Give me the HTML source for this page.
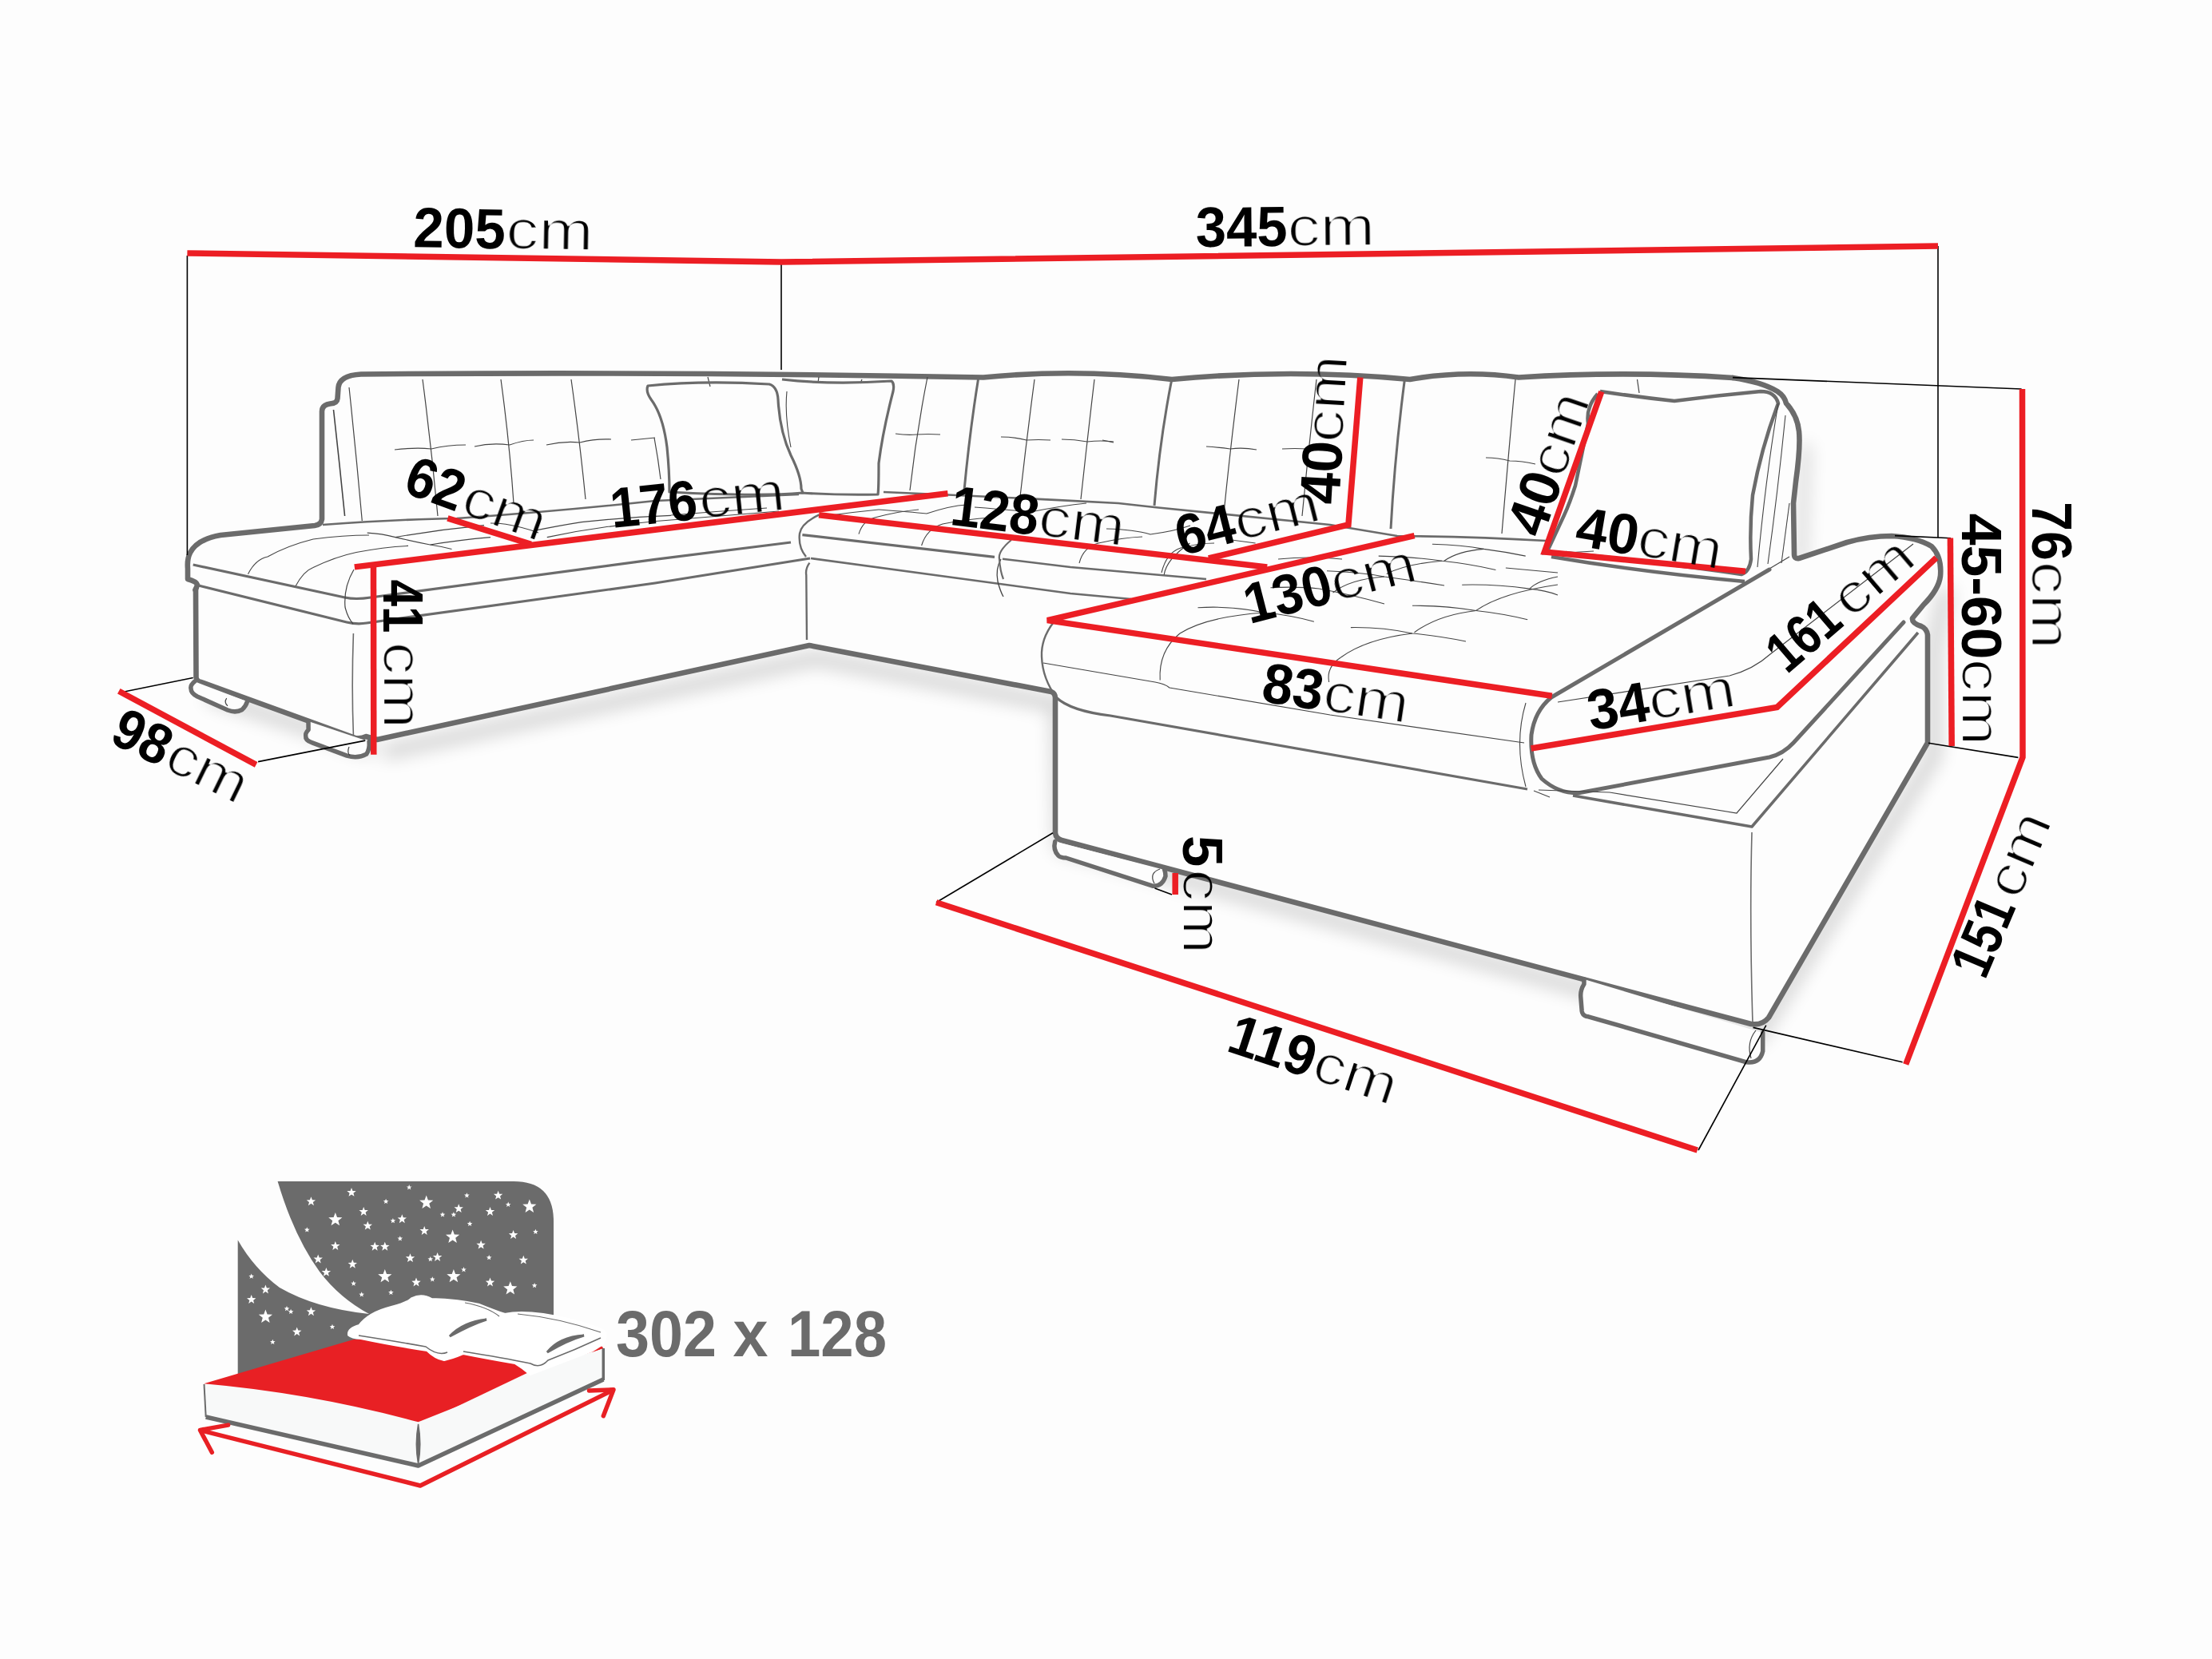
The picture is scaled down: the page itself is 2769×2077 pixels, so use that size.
<!DOCTYPE html>
<html><head><meta charset="utf-8"><style>
html,body{margin:0;padding:0;background:#fdfdfd;}
svg{display:block;}
text{font-family:"Liberation Sans",sans-serif;} .b{font-weight:700;fill:#000;} .r{font-weight:400;fill:#000;filter:url(#thin);} .g{font-weight:700;fill:#6b6b6b;}
</style></head><body>
<svg width="2769" height="2077" viewBox="0 0 2769 2077">
<defs><filter id="blur" x="-20%" y="-20%" width="140%" height="140%"><feGaussianBlur stdDeviation="11"/></filter><filter id="thin" x="-10%" y="-10%" width="120%" height="120%"><feMorphology operator="erode" radius="1.1"/></filter></defs>
<rect width="2769" height="2077" fill="#fdfdfd"/>
<g filter="url(#blur)" opacity="0.17" transform="translate(8,16)"><path d="M472,926 L1013,808 L1316,866 L1321,1043 L2192,1282 L2413,930 L2413,795 L2429,721" stroke="#000" stroke-width="18" fill="none"/><path d="M252,854 L458,922" stroke="#000" stroke-width="18" fill="none"/><path d="M2252,540 L2246,694" stroke="#000" stroke-width="12" fill="none"/></g>
<path d="M2169,473 Q2035,464 1901,472.5 Q1833,463 1765,475 Q1616,461 1467,475 Q1349,461 1231,472.5 Q840,465 452,468.5 Q425,470 423.5,485 L422.5,499 Q422,505 413,505.5 Q403,507 403,515 L403,650 Q402,657 394,658 L276,670 Q247,675 238,692 Q234,700 235,712 L235,725 Q246,728 247,732 Q246,736 244.5,738.5 L245,738 L245.5,848 Q246,853 252,854 L445,924 Q453,925 458,922 L472,926 L1013,808 L1316,866 Q1321,868 1321,874 L1321,1043 Q1322,1050 1329,1052 L2192,1282 Q2206,1284 2214,1274 L2413,930 L2413,795 Q2412,787 2405,784 Q2393,780 2394,774 L2408,757 Q2427,738 2429,721 Q2431,697 2418,684 Q2400,673 2368,671 Q2340,671 2312,679 L2252,699 Q2246,700 2246,694 L2245,630 L2248,603 Q2254,560 2252,540 Q2250,520 2236,505 Q2234,496 2225,490 Q2205,478 2169,473 Z" fill="#fdfdfd" stroke="none"/>
<path d="M2169,473 Q2035,464 1901,472.5 Q1833,463 1765,475 Q1616,461 1467,475 Q1349,461 1231,472.5 Q840,465 452,468.5 Q425,470 423.5,485 L422.5,499 Q422,505 413,505.5 Q403,507 403,515 L403,650 Q402,657 394,658 L276,670 Q247,675 238,692 Q234,700 235,712 L235,725 Q246,728 247,732 Q246,736 244.5,738.5" stroke="#6b6b6b" stroke-width="6.6" fill="none" stroke-linejoin="round" stroke-linecap="round"/>
<path d="M245,738 L245.5,848 Q246,853 252,854 L445,924 Q453,925 458,922 L472,926 L1013,808 L1316,866 Q1321,868 1321,874 L1321,1043 Q1322,1050 1329,1052 L2192,1282 Q2206,1284 2214,1274 L2413,930 L2413,795 Q2412,787 2405,784 Q2393,780 2394,774 L2408,757 Q2427,738 2429,721 Q2431,697 2418,684 Q2400,673 2368,671 Q2340,671 2312,679 L2252,699 Q2246,700 2246,694 L2245,630 L2248,603 Q2254,560 2252,540 Q2250,520 2236,505 Q2234,496 2225,490 Q2205,478 2169,473" stroke="#6b6b6b" stroke-width="6.6" fill="none" stroke-linejoin="round" stroke-linecap="round"/>
<path d="M243.7,853.2 Q238,858 239,862 Q239,868 247,872 L285,889 Q295,893 303,888.5 Q308,884 309.5,878.3" stroke="#6b6b6b" stroke-width="5.5" fill="#fdfdfd" stroke-linecap="round" stroke-linejoin="round"/>
<path d="M283.7,874.2 Q280,879.7 285,883.7" stroke="#444" stroke-width="1.2" fill="none" />
<path d="M386,903 L386.1,913.6 Q382,918 382.7,921 Q382,927 390.9,929.9 L434.3,946.1 Q448,950 458.7,944.1 Q463,938 462.1,928.5" stroke="#6b6b6b" stroke-width="5.5" fill="#fdfdfd" stroke-linecap="round" stroke-linejoin="round"/>
<path d="M437,935 Q434,942 438,946" stroke="#444" stroke-width="1.2" fill="none" />
<path d="M1320.7,1053.6 Q1318,1064 1324.8,1071.2 Q1328,1074 1334.3,1074 L1442.8,1109.2 Q1455,1110 1459,1097 Q1459,1092 1457.7,1088.9" stroke="#6b6b6b" stroke-width="5.5" fill="#fdfdfd" stroke-linecap="round" stroke-linejoin="round"/>
<path d="M1452,1088 Q1438,1093 1445,1106" stroke="#444" stroke-width="1.2" fill="none" />
<path d="M1983,1226 L1982.9,1232.1 Q1978,1240 1978.8,1248.4 L1980.2,1266 Q1981,1272 1988.3,1272.8 L2186.3,1329.8 Q2203,1332 2206.7,1316.2 L2206.7,1293.1" stroke="#6b6b6b" stroke-width="5.5" fill="#fdfdfd" stroke-linecap="round" stroke-linejoin="round"/>
<path d="M2198,1290 Q2186,1305 2192,1325" stroke="#444" stroke-width="1.2" fill="none" />
<path d="M417.5,513 Q425,580 431.6,646" stroke="#444" stroke-width="1.6" fill="none" />
<path d="M437,485 Q446,570 453.3,652" stroke="#444" stroke-width="1.2" fill="none" />
<path d="M404,657 Q500,650 572,649 Q700,640 820,627 L1000,619" stroke="#6b6b6b" stroke-width="2.6" fill="none" />
<path d="M1106,616 Q1250,622 1400,630 L1445,635 L1665,657 L1749,671 Q1850,672 1935,677" stroke="#6b6b6b" stroke-width="2.6" fill="none" />
<path d="M241.7,707 L431.6,748 Q445,751 464,748 L820,700.4 L990,679" stroke="#6b6b6b" stroke-width="3.2" fill="none" />
<path d="M248.5,733 L434,779 Q447,782 459,780 L820,730 L1014,699" stroke="#6b6b6b" stroke-width="3.2" fill="none" />
<path d="M443,713 Q430,735 432,760 Q435,773 442,781" stroke="#444" stroke-width="1.2" fill="none" />
<path d="M442.4,793 Q440,860 442.4,920" stroke="#6b6b6b" stroke-width="1.6" fill="none" />
<path d="M1015,699 L1340,743 L1416,750" stroke="#6b6b6b" stroke-width="2.6" fill="none" />
<path d="M1004.4,669.6 L1245,697.3" stroke="#6b6b6b" stroke-width="3.2" fill="none" />
<path d="M1255,699.7 L1340,710 L1510,725" stroke="#6b6b6b" stroke-width="2.6" fill="none" />
<path d="M1025.6,644.4 Q1003,655 1001,668 Q999,685 1009,697" stroke="#6b6b6b" stroke-width="2.4" fill="none" />
<path d="M1013.4,704.6 Q1008,712 1009.3,720 L1010,801" stroke="#6b6b6b" stroke-width="2.4" fill="none" />
<path d="M1253,700 Q1246,712 1249,728 Q1252,740 1256,747" stroke="#444" stroke-width="1.3" fill="none" />
<path d="M1318.5,779.5 Q1303,800 1304,822 Q1305,850 1323,874" stroke="#6b6b6b" stroke-width="2.4" fill="none" />
<path d="M1322,873 Q1340,890 1390,896 L1912,988" stroke="#6b6b6b" stroke-width="3.2" fill="none" />
<path d="M1306,830 L1446,854 Q1458,856 1464,861 L1665,895 L1908,930" stroke="#444" stroke-width="1.2" fill="none" />
<path d="M1224.5,475 Q1214,540 1207,614" stroke="#6b6b6b" stroke-width="3" fill="none" />
<path d="M1466.8,475 Q1452,550 1445,633" stroke="#6b6b6b" stroke-width="3" fill="none" />
<path d="M1758.4,475 Q1746,570 1741,662" stroke="#6b6b6b" stroke-width="3" fill="none" />
<path d="M529,475 Q540,560 548,646" stroke="#444" stroke-width="1.2" fill="none" />
<path d="M627,475 Q638,556 643,630" stroke="#444" stroke-width="1.2" fill="none" />
<path d="M715,475 Q726,554 733,625" stroke="#444" stroke-width="1.2" fill="none" />
<path d="M1161,472 Q1147,543 1139,614" stroke="#444" stroke-width="1.2" fill="none" />
<path d="M1295,475 Q1285,551 1277,622" stroke="#444" stroke-width="1.2" fill="none" />
<path d="M1370,475 Q1361,551 1353,625" stroke="#444" stroke-width="1.2" fill="none" />
<path d="M1551,475 Q1540,562 1532,643" stroke="#444" stroke-width="1.2" fill="none" />
<path d="M1648,475 Q1638,562 1630,646" stroke="#444" stroke-width="1.2" fill="none" />
<path d="M1897,475 Q1890,549 1880,668" stroke="#444" stroke-width="1.2" fill="none" />
<path d="M819,548 Q824,575 827,600" stroke="#444" stroke-width="1.2" fill="none" />
<path d="M2049.5,475 L2052,492" stroke="#444" stroke-width="1.2" fill="none" />
<path d="M886,472 L889,484" stroke="#444" stroke-width="1.2" fill="none" />
<path d="M1025,472 L1024,479" stroke="#444" stroke-width="1.2" fill="none" />
<path d="M1079,475 L1077,480" stroke="#444" stroke-width="1.2" fill="none" />
<path d="M494,563 Q520,560 540,562 Q560,557 583,557" stroke="#444" stroke-width="1.2" fill="none" />
<path d="M594,559 Q615,554 638,557 Q655,551 668,551" stroke="#444" stroke-width="1.2" fill="none" />
<path d="M684,557 Q705,552 726,554 Q745,549 765,550" stroke="#444" stroke-width="1.2" fill="none" />
<path d="M790,551 L820,548" stroke="#444" stroke-width="1.2" fill="none" />
<path d="M1121,543 Q1135,545 1147,544 Q1162,543 1177,544" stroke="#444" stroke-width="1.2" fill="none" />
<path d="M1253,547 Q1270,547 1285,551 Q1300,550 1315,551" stroke="#444" stroke-width="1.2" fill="none" />
<path d="M1329,550 Q1345,550 1361,553 Q1378,551 1394,553" stroke="#444" stroke-width="1.2" fill="none" />
<path d="M1510,559 Q1525,560 1540,562 Q1556,560 1573,563" stroke="#444" stroke-width="1.2" fill="none" />
<path d="M1605,562 Q1620,561 1638,562" stroke="#444" stroke-width="1.2" fill="none" />
<path d="M1860,573 Q1875,573 1890,577 Q1905,577 1922,581" stroke="#444" stroke-width="1.2" fill="none" />
<path d="M1380,551 L1394,554" stroke="#444" stroke-width="1.2" fill="none" />
<path d="M310.5,718.7 Q320,700 335,697 Q360,683 392,675 Q430,670 462,670" stroke="#444" stroke-width="1.1" fill="none" />
<path d="M370.2,733.6 Q380,715 392,710.5 Q420,697 446,691.5 Q480,685 511,683.4" stroke="#444" stroke-width="1.1" fill="none" />
<path d="M459.7,667.1 Q478,668 495,672.6 Q518,678 538.4,682 Q552,684 565.5,687.5" stroke="#444" stroke-width="1.1" fill="none" />
<path d="M495,672.6 Q550,663 606,657.6" stroke="#444" stroke-width="1.1" fill="none" />
<path d="M538.4,682 Q575,676 614,672.6" stroke="#444" stroke-width="1.1" fill="none" />
<path d="M614,655 Q625,655 633,656.3 Q655,660 674,667" stroke="#444" stroke-width="1.1" fill="none" />
<path d="M668.6,664.4 Q700,658 728,653.6 Q780,648 840,645.4" stroke="#444" stroke-width="1.1" fill="none" />
<path d="M684.8,672.6 Q720,665 755,660.3 Q800,654 840,651" stroke="#444" stroke-width="1.1" fill="none" />
<path d="M840,645 Q900,640 960,636" stroke="#444" stroke-width="1.1" fill="none" />
<path d="M840,651 Q910,645 975,640" stroke="#444" stroke-width="1.1" fill="none" />
<path d="M1075,668.6 Q1080,652 1095,648 Q1125,640 1150,638" stroke="#444" stroke-width="1.1" fill="none" />
<path d="M1153.6,683 Q1160,662 1180,656 Q1210,650 1240,648" stroke="#444" stroke-width="1.1" fill="none" />
<path d="M1351,705 Q1356,685 1375,680 Q1405,673 1430,672" stroke="#444" stroke-width="1.1" fill="none" />
<path d="M1454,717 Q1460,692 1478,686 Q1500,680 1520,680" stroke="#444" stroke-width="1.1" fill="none" />
<path d="M1100,638 Q1140,641 1160,643 Q1190,633 1210,632" stroke="#444" stroke-width="1.1" fill="none" />
<path d="M1220,635 Q1260,638 1290,641 Q1330,633 1360,630" stroke="#444" stroke-width="1.1" fill="none" />
<path d="M1385,662 Q1420,663 1440,669 Q1470,665 1490,658" stroke="#444" stroke-width="1.1" fill="none" />
<path d="M1040,645 Q1070,641 1100,638" stroke="#444" stroke-width="1.1" fill="none" />
<path d="M1266,676 Q1249,690 1251,700 Q1252,715 1256,725" stroke="#6b6b6b" stroke-width="2.2" fill="none" />
<path d="M1499.5,760.8 Q1540,758 1582.8,767 Q1615,770 1644.9,778.2" stroke="#444" stroke-width="1.1" fill="none" />
<path d="M1477,793 Q1510,772 1582.8,767" stroke="#444" stroke-width="1.1" fill="none" />
<path d="M1452.2,851.5 Q1450,815 1477,793" stroke="#444" stroke-width="1.1" fill="none" />
<path d="M1690.9,785.6 Q1730,785 1768,793 Q1800,796 1835,803" stroke="#444" stroke-width="1.1" fill="none" />
<path d="M1678.5,823 Q1710,800 1768,793" stroke="#444" stroke-width="1.1" fill="none" />
<path d="M1663.6,854 Q1660,835 1678.5,823" stroke="#444" stroke-width="1.1" fill="none" />
<path d="M1768,758.3 Q1810,758 1847.6,764.5 Q1880,768 1912.2,775.7" stroke="#444" stroke-width="1.1" fill="none" />
<path d="M1770.5,791.8 Q1800,770 1847.6,764.5" stroke="#444" stroke-width="1.1" fill="none" />
<path d="M1847.6,764.5 Q1880,742 1950,732" stroke="#444" stroke-width="1.1" fill="none" />
<path d="M1830.2,732.2 Q1870,731 1914.7,737.1 Q1935,739 1950,745" stroke="#444" stroke-width="1.1" fill="none" />
<path d="M1725.7,696.1 Q1770,697 1805.3,702.3 Q1840,706 1872.4,713.5" stroke="#444" stroke-width="1.1" fill="none" />
<path d="M1735.7,718.5 Q1760,706 1805.3,702.3" stroke="#444" stroke-width="1.1" fill="none" />
<path d="M1661,714.8 Q1700,716 1733,722 Q1770,727 1808,733" stroke="#444" stroke-width="1.1" fill="none" />
<path d="M1668.5,742.1 Q1690,725 1733,722" stroke="#444" stroke-width="1.1" fill="none" />
<path d="M1792.9,681.2 Q1830,682 1857.5,687.4 Q1885,691 1909.7,696.1" stroke="#444" stroke-width="1.1" fill="none" />
<path d="M1807.8,702.3 Q1825,690 1857.5,687.4" stroke="#444" stroke-width="1.1" fill="none" />
<path d="M1884.9,711 L1950,717" stroke="#444" stroke-width="1.1" fill="none" />
<path d="M1914.7,737.1 Q1925,727 1950,722" stroke="#444" stroke-width="1.1" fill="none" />
<path d="M1590.5,735.7 Q1625,734 1651,737 Q1690,744 1733,756" stroke="#444" stroke-width="1.1" fill="none" />
<path d="M1457.2,719.7 Q1460,700 1489.5,680" stroke="#444" stroke-width="1.1" fill="none" />
<path d="M1534.3,675 L1571.6,680" stroke="#444" stroke-width="1.1" fill="none" />
<path d="M1600,700 Q1640,696 1680,700" stroke="#444" stroke-width="1.1" fill="none" />
<path d="M811,483 Q880,476 963,481 Q973,484 974,500 Q976,540 990,570 Q1003,596 1003,612 L1005,617 Q950,622 838,616 Q838,590 835,560 Q830,520 815,500 Q808,490 811,483 Z" stroke="#6b6b6b" stroke-width="3.2" fill="none" stroke-linejoin="round"/>
<path d="M979,475 Q1040,482 1116,477 Q1120,480 1118,490 Q1105,540 1100,580 Q1100,612 1099,619 Q1050,620 1003,617" stroke="#6b6b6b" stroke-width="3.2" fill="none" fill="none" stroke-linejoin="round"/>
<path d="M985,490 Q982,520 990,560" stroke="#444" stroke-width="1.1" fill="none" />
<path d="M2003,490 Q2050,497 2096,502 Q2150,495 2204,490 Q2222,490 2226,505 Q2205,560 2194,620 Q2190,660 2192,700 Q2190,716 2180,719 Q2100,707 1960,692" stroke="#6b6b6b" stroke-width="4.5" fill="none" stroke-linejoin="round"/>
<path d="M2000,493 Q1985,510 1988,530 Q1980,570 1972,608 Q1965,630 1958,645 L1938,688" stroke="#6b6b6b" stroke-width="4.5" fill="none" />
<path d="M1942,697 Q2060,717 2184,728" stroke="#6b6b6b" stroke-width="4.5" fill="none" />
<path d="M2226,505 Q2210,600 2200,710" stroke="#444" stroke-width="1.1" fill="none" />
<path d="M2235,520 Q2225,620 2213,706" stroke="#444" stroke-width="1.1" fill="none" />
<path d="M2240,630 L2230,705" stroke="#444" stroke-width="1.1" fill="none" />
<path d="M2205,718 L2240,697" stroke="#444" stroke-width="1.1" fill="none" />
<path d="M1995,690 Q1960,692 1930,694" stroke="#444" stroke-width="1.1" fill="none" />
<path d="M2215,713 L1942,873 Q1921,890 1917,920 Q1915,955 1930,975 Q1950,993 1975,993 L2215,948 Q2232,944 2245,930 L2383,779" stroke="#6b6b6b" stroke-width="5" fill="none" stroke-linejoin="round" stroke-linecap="round"/>
<path d="M2401,792 L2193,1035 L1969,996" stroke="#6b6b6b" stroke-width="3.6" fill="none" stroke-linejoin="round"/>
<path d="M2232,950 L2174,1018 L2015,992" stroke="#444" stroke-width="1.2" fill="none" />
<path d="M1926,989 L2015,992" stroke="#444" stroke-width="1.2" fill="none" />
<path d="M2193,1042 Q2190,1150 2194,1281" stroke="#6b6b6b" stroke-width="1.6" fill="none" />
<path d="M1910,880 Q1895,930 1910,985" stroke="#444" stroke-width="1.1" fill="none" />
<path d="M1950,879 Q2060,862 2165,846 Q2195,838 2216,819 L2395,681" stroke="#444" stroke-width="1.2" fill="none" />
<path d="M1920,990 L1940,998" stroke="#444" stroke-width="1.1" fill="none" />
<path d="M234.4,320.0 L234.4,695.0" stroke="#000" stroke-width="1.6" fill="none" />
<path d="M978.0,328.0 L978.0,463.0" stroke="#000" stroke-width="1.6" fill="none" />
<path d="M2426.0,308.0 L2426.0,673.0" stroke="#000" stroke-width="1.6" fill="none" />
<path d="M2169.0,472.6 L2530.6,487.0" stroke="#000" stroke-width="1.6" fill="none" />
<path d="M2372.0,670.6 L2442.0,673.8" stroke="#000" stroke-width="1.6" fill="none" />
<path d="M2414.0,930.3 L2526.4,948.4" stroke="#000" stroke-width="1.6" fill="none" />
<path d="M2194.5,1286.4 L2381.6,1329.8" stroke="#000" stroke-width="1.6" fill="none" />
<path d="M2210.8,1283.6 L2126.0,1440.0" stroke="#000" stroke-width="1.6" fill="none" />
<path d="M1172.0,1129.8 L1318.0,1042.8" stroke="#000" stroke-width="1.6" fill="none" />
<path d="M1445.5,1112.0 L1467.0,1120.0" stroke="#000" stroke-width="1.6" fill="none" />
<path d="M150.6,867.0 L241.7,848.5" stroke="#000" stroke-width="1.6" fill="none" />
<path d="M323.1,953.6 L457.3,927.1" stroke="#000" stroke-width="1.6" fill="none" />
<path d="M234.4,317.0 L978.0,328.0 L2426.0,308.0" stroke="#ec1e24" stroke-width="7.5" fill="none" stroke-linejoin="miter"/>
<path d="M2531.5,487.0 L2532.0,948.0 L2385.7,1332.5" stroke="#ec1e24" stroke-width="7.5" fill="none" stroke-linejoin="miter"/>
<path d="M2441.4,673.5 L2443.2,934.0" stroke="#ec1e24" stroke-width="7.5" fill="none" stroke-linejoin="miter"/>
<path d="M443.8,709.9 L1186.5,617.7" stroke="#ec1e24" stroke-width="7.5" fill="none" stroke-linejoin="miter"/>
<path d="M467.5,709.7 L467.8,944.8" stroke="#ec1e24" stroke-width="7.5" fill="none" stroke-linejoin="miter"/>
<path d="M560.4,648.9 L664.8,681.4" stroke="#ec1e24" stroke-width="7.5" fill="none" stroke-linejoin="miter"/>
<path d="M148.8,865.2 L320.6,957.4" stroke="#ec1e24" stroke-width="7.5" fill="none" stroke-linejoin="miter"/>
<path d="M1025.1,644.8 L1586.2,709.9" stroke="#ec1e24" stroke-width="7.5" fill="none" stroke-linejoin="miter"/>
<path d="M1512.9,699.0 L1687.9,657.0 L1702.8,472.5" stroke="#ec1e24" stroke-width="7.5" fill="none" stroke-linejoin="miter"/>
<path d="M1770.6,670.6 L1311.0,776.6 L1942.8,871.3" stroke="#ec1e24" stroke-width="7.5" fill="none" stroke-linejoin="miter"/>
<path d="M2004.8,490.2 L1933.4,690.9 L2185.0,715.3" stroke="#ec1e24" stroke-width="7.5" fill="none" stroke-linejoin="miter"/>
<path d="M2423.9,698.3 L2224.5,885.5 L1916.6,937.0" stroke="#ec1e24" stroke-width="7.5" fill="none" stroke-linejoin="miter"/>
<path d="M1172.0,1129.8 L2124.8,1440.0" stroke="#ec1e24" stroke-width="7.5" fill="none" stroke-linejoin="miter"/>
<path d="M1471.2,1093.0 L1471.2,1120.0" stroke="#ec1e24" stroke-width="7.5" fill="none" stroke-linejoin="miter"/>
<g transform="translate(519.4,309.4) rotate(1)"><text x="-2.3" y="0" class="b" font-size="71" textLength="115.3" lengthAdjust="spacingAndGlyphs">205</text><text x="113.8" y="0" class="r" font-size="71" textLength="108.9" lengthAdjust="spacingAndGlyphs">cm</text></g>
<g transform="translate(1499.4,309.0) rotate(-0.5)"><text x="-2.3" y="0" class="b" font-size="71" textLength="114.6" lengthAdjust="spacingAndGlyphs">345</text><text x="112.6" y="0" class="r" font-size="71" textLength="109.3" lengthAdjust="spacingAndGlyphs">cm</text></g>
<g transform="translate(504.9,616.6) rotate(20)"><text x="-2.3" y="0" class="b" font-size="71" textLength="73.3" lengthAdjust="spacingAndGlyphs">62</text><text x="73.8" y="0" class="r" font-size="71" textLength="106.7" lengthAdjust="spacingAndGlyphs">cm</text></g>
<g transform="translate(768.8,660.8) rotate(-6)"><text x="-2.3" y="0" class="b" font-size="71" textLength="109.0" lengthAdjust="spacingAndGlyphs">176</text><text x="109.1" y="0" class="r" font-size="71" textLength="107.7" lengthAdjust="spacingAndGlyphs">cm</text></g>
<g transform="translate(1190.2,657.1) rotate(7)"><text x="-2.3" y="0" class="b" font-size="71" textLength="110.6" lengthAdjust="spacingAndGlyphs">128</text><text x="108.6" y="0" class="r" font-size="71" textLength="108.1" lengthAdjust="spacingAndGlyphs">cm</text></g>
<g transform="translate(1480.6,695.5) rotate(-14.3)"><text x="-2.3" y="0" class="b" font-size="71" textLength="74.8" lengthAdjust="spacingAndGlyphs">64</text><text x="73.1" y="0" class="r" font-size="71" textLength="107.6" lengthAdjust="spacingAndGlyphs">cm</text></g>
<g transform="translate(1676.5,630.0) rotate(-86.8)"><text x="-2.3" y="0" class="b" font-size="71" textLength="79.3" lengthAdjust="spacingAndGlyphs">40</text><text x="75.3" y="0" class="r" font-size="71" textLength="108.9" lengthAdjust="spacingAndGlyphs">cm</text></g>
<g transform="translate(1566.5,780.7) rotate(-14.5)"><text x="-2.3" y="0" class="b" font-size="71" textLength="111.0" lengthAdjust="spacingAndGlyphs">130</text><text x="108.8" y="0" class="r" font-size="71" textLength="108.4" lengthAdjust="spacingAndGlyphs">cm</text></g>
<g transform="translate(1579.7,878.4) rotate(8.5)"><text x="-2.3" y="0" class="b" font-size="71" textLength="76.6" lengthAdjust="spacingAndGlyphs">83</text><text x="74.9" y="0" class="r" font-size="71" textLength="107.7" lengthAdjust="spacingAndGlyphs">cm</text></g>
<g transform="translate(1931.8,673.0) rotate(-71)"><text x="-2.3" y="0" class="b" font-size="71" textLength="79.3" lengthAdjust="spacingAndGlyphs">40</text><text x="76.5" y="0" class="r" font-size="71" textLength="105.5" lengthAdjust="spacingAndGlyphs">cm</text></g>
<g transform="translate(1972.3,682.8) rotate(9.5)"><text x="-2.3" y="0" class="b" font-size="71" textLength="78.3" lengthAdjust="spacingAndGlyphs">40</text><text x="75.7" y="0" class="r" font-size="71" textLength="106.8" lengthAdjust="spacingAndGlyphs">cm</text></g>
<g transform="translate(2238.5,843.2) rotate(-40.5)"><text x="-2.3" y="0" class="b" font-size="71" textLength="96.2" lengthAdjust="spacingAndGlyphs">161</text><text x="103.8" y="0" class="r" font-size="71" textLength="110.3" lengthAdjust="spacingAndGlyphs">cm</text></g>
<g transform="translate(1993.8,914.1) rotate(-9.5)"><text x="-2.3" y="0" class="b" font-size="71" textLength="77.2" lengthAdjust="spacingAndGlyphs">34</text><text x="74.8" y="0" class="r" font-size="71" textLength="109.1" lengthAdjust="spacingAndGlyphs">cm</text></g>
<g transform="translate(2456.2,645.0) rotate(90)"><text x="-2.3" y="0" class="b" font-size="71" textLength="182.8" lengthAdjust="spacingAndGlyphs">45-60</text><text x="179.8" y="0" class="r" font-size="71" textLength="108.5" lengthAdjust="spacingAndGlyphs">cm</text></g>
<g transform="translate(2543.5,630.5) rotate(90)"><text x="-2.3" y="0" class="b" font-size="71" textLength="73.6" lengthAdjust="spacingAndGlyphs">76</text><text x="72.3" y="0" class="r" font-size="71" textLength="109.7" lengthAdjust="spacingAndGlyphs">cm</text></g>
<g transform="translate(2485.7,1225.8) rotate(-67)"><text x="-2.3" y="0" class="b" font-size="71" textLength="100.3" lengthAdjust="spacingAndGlyphs">151</text><text x="105.8" y="0" class="r" font-size="71" textLength="108.5" lengthAdjust="spacingAndGlyphs">cm</text></g>
<g transform="translate(1535.4,1316.0) rotate(18.3)"><text x="-2.3" y="0" class="b" font-size="71" textLength="110.5" lengthAdjust="spacingAndGlyphs">119</text><text x="109.5" y="0" class="r" font-size="71" textLength="106.4" lengthAdjust="spacingAndGlyphs">cm</text></g>
<g transform="translate(1481.0,1048.2) rotate(90)"><text x="-2.3" y="0" class="b" font-size="71" textLength="39.3" lengthAdjust="spacingAndGlyphs">5</text><text x="40.2" y="0" class="r" font-size="71" textLength="105.8" lengthAdjust="spacingAndGlyphs">cm</text></g>
<g transform="translate(137.4,929.5) rotate(26)"><text x="-2.3" y="0" class="b" font-size="71" textLength="72.8" lengthAdjust="spacingAndGlyphs">98</text><text x="72.6" y="0" class="r" font-size="71" textLength="105.3" lengthAdjust="spacingAndGlyphs">cm</text></g>
<g transform="translate(480.2,727.7) rotate(90)"><text x="-2.3" y="0" class="b" font-size="71" textLength="67.0" lengthAdjust="spacingAndGlyphs">41</text><text x="75.9" y="0" class="r" font-size="71" textLength="108.6" lengthAdjust="spacingAndGlyphs">cm</text></g>
<path d="M347.6,1479 L643,1479 Q693,1479 693,1529 L693,1725 L297.7,1725 L297.7,1552.4 Q318,1588 350,1612 Q395,1638 462,1645 Q425,1625 400,1592 Q368,1548 347.6,1479 Z" fill="#6b6b6b"/>
<polygon points="419.8,1518.0 422.0,1523.9 428.4,1524.2 423.4,1528.2 425.1,1534.3 419.8,1530.8 414.5,1534.3 416.2,1528.2 411.2,1524.2 417.6,1523.9" fill="#fff"/>
<polygon points="533.7,1496.6 535.9,1502.5 542.3,1502.8 537.3,1506.8 539.0,1512.9 533.7,1509.4 528.4,1512.9 530.1,1506.8 525.1,1502.8 531.5,1502.5" fill="#fff"/>
<polygon points="662.8,1501.6 665.0,1507.5 671.4,1507.8 666.4,1511.8 668.1,1517.9 662.8,1514.4 657.5,1517.9 659.2,1511.8 654.2,1507.8 660.6,1507.5" fill="#fff"/>
<polygon points="566.6,1539.6 568.8,1545.5 575.2,1545.8 570.2,1549.8 571.9,1555.9 566.6,1552.4 561.3,1555.9 563.0,1549.8 558.0,1545.8 564.4,1545.5" fill="#fff"/>
<polygon points="481.8,1589.0 484.0,1594.9 490.4,1595.2 485.4,1599.2 487.1,1605.3 481.8,1601.8 476.5,1605.3 478.2,1599.2 473.2,1595.2 479.6,1594.9" fill="#fff"/>
<polygon points="567.9,1589.0 570.1,1594.9 576.5,1595.2 571.5,1599.2 573.2,1605.3 567.9,1601.8 562.6,1605.3 564.3,1599.2 559.3,1595.2 565.7,1594.9" fill="#fff"/>
<polygon points="638.8,1604.2 641.0,1610.1 647.4,1610.4 642.4,1614.4 644.1,1620.5 638.8,1617.0 633.5,1620.5 635.2,1614.4 630.2,1610.4 636.6,1610.1" fill="#fff"/>
<polygon points="332.4,1639.6 334.6,1645.5 341.0,1645.8 336.0,1649.8 337.7,1655.9 332.4,1652.4 327.1,1655.9 328.8,1649.8 323.8,1645.8 330.2,1645.5" fill="#fff"/>
<polygon points="440.0,1486.9 441.5,1490.9 445.7,1491.0 442.4,1493.7 443.5,1497.8 440.0,1495.4 436.5,1497.8 437.6,1493.7 434.3,1491.0 438.5,1490.9" fill="#fff"/>
<polygon points="389.4,1498.3 390.9,1502.3 395.1,1502.4 391.8,1505.1 392.9,1509.2 389.4,1506.8 385.9,1509.2 387.0,1505.1 383.7,1502.4 387.9,1502.3" fill="#fff"/>
<polygon points="455.2,1511.0 456.7,1515.0 460.9,1515.1 457.6,1517.8 458.7,1521.9 455.2,1519.5 451.7,1521.9 452.8,1517.8 449.5,1515.1 453.7,1515.0" fill="#fff"/>
<polygon points="460.3,1528.7 461.8,1532.7 466.0,1532.8 462.7,1535.5 463.8,1539.6 460.3,1537.2 456.8,1539.6 457.9,1535.5 454.6,1532.8 458.8,1532.7" fill="#fff"/>
<polygon points="503.3,1520.3 504.8,1524.3 509.0,1524.4 505.7,1527.1 506.8,1531.2 503.3,1528.8 499.8,1531.2 500.9,1527.1 497.6,1524.4 501.8,1524.3" fill="#fff"/>
<polygon points="574.2,1507.2 575.7,1511.2 579.9,1511.3 576.6,1514.0 577.7,1518.1 574.2,1515.7 570.7,1518.1 571.8,1514.0 568.5,1511.3 572.7,1511.2" fill="#fff"/>
<polygon points="623.6,1490.7 625.1,1494.7 629.3,1494.8 626.0,1497.5 627.1,1501.6 623.6,1499.2 620.1,1501.6 621.2,1497.5 617.9,1494.8 622.1,1494.7" fill="#fff"/>
<polygon points="613.5,1511.0 615.0,1515.0 619.2,1515.1 615.9,1517.8 617.0,1521.9 613.5,1519.5 610.0,1521.9 611.1,1517.8 607.8,1515.1 612.0,1515.0" fill="#fff"/>
<polygon points="531.2,1535.0 532.7,1539.0 536.9,1539.1 533.6,1541.8 534.7,1545.9 531.2,1543.5 527.7,1545.9 528.8,1541.8 525.5,1539.1 529.7,1539.0" fill="#fff"/>
<polygon points="642.6,1540.1 644.1,1544.1 648.3,1544.2 645.0,1546.9 646.1,1551.0 642.6,1548.6 639.1,1551.0 640.2,1546.9 636.9,1544.2 641.1,1544.1" fill="#fff"/>
<polygon points="419.8,1554.0 421.3,1558.0 425.5,1558.1 422.2,1560.8 423.3,1564.9 419.8,1562.5 416.3,1564.9 417.4,1560.8 414.1,1558.1 418.3,1558.0" fill="#fff"/>
<polygon points="469.2,1554.8 470.7,1558.8 474.9,1558.9 471.6,1561.6 472.7,1565.7 469.2,1563.3 465.7,1565.7 466.8,1561.6 463.5,1558.9 467.7,1558.8" fill="#fff"/>
<polygon points="481.8,1554.8 483.3,1558.8 487.5,1558.9 484.2,1561.6 485.3,1565.7 481.8,1563.3 478.3,1565.7 479.4,1561.6 476.1,1558.9 480.3,1558.8" fill="#fff"/>
<polygon points="602.1,1552.7 603.6,1556.7 607.8,1556.8 604.5,1559.5 605.6,1563.6 602.1,1561.2 598.6,1563.6 599.7,1559.5 596.4,1556.8 600.6,1556.7" fill="#fff"/>
<polygon points="398.2,1570.5 399.7,1574.5 403.9,1574.6 400.6,1577.3 401.7,1581.4 398.2,1579.0 394.7,1581.4 395.8,1577.3 392.5,1574.6 396.7,1574.5" fill="#fff"/>
<polygon points="513.5,1569.2 515.0,1573.2 519.2,1573.3 515.9,1576.0 517.0,1580.1 513.5,1577.7 510.0,1580.1 511.1,1576.0 507.8,1573.3 512.0,1573.2" fill="#fff"/>
<polygon points="547.6,1568.0 549.1,1572.0 553.3,1572.1 550.0,1574.8 551.1,1578.9 547.6,1576.5 544.1,1578.9 545.2,1574.8 541.9,1572.1 546.1,1572.0" fill="#fff"/>
<polygon points="655.3,1571.7 656.8,1575.7 661.0,1575.8 657.7,1578.5 658.8,1582.6 655.3,1580.2 651.8,1582.6 652.9,1578.5 649.6,1575.8 653.8,1575.7" fill="#fff"/>
<polygon points="441.3,1576.8 442.8,1580.8 447.0,1580.9 443.7,1583.6 444.8,1587.7 441.3,1585.3 437.8,1587.7 438.9,1583.6 435.6,1580.9 439.8,1580.8" fill="#fff"/>
<polygon points="408.4,1586.9 409.9,1590.9 414.1,1591.0 410.8,1593.7 411.9,1597.8 408.4,1595.4 404.9,1597.8 406.0,1593.7 402.7,1591.0 406.9,1590.9" fill="#fff"/>
<polygon points="521.0,1599.6 522.5,1603.6 526.7,1603.7 523.4,1606.4 524.5,1610.5 521.0,1608.1 517.5,1610.5 518.6,1606.4 515.3,1603.7 519.5,1603.6" fill="#fff"/>
<polygon points="613.5,1599.6 615.0,1603.6 619.2,1603.7 615.9,1606.4 617.0,1610.5 613.5,1608.1 610.0,1610.5 611.1,1606.4 607.8,1603.7 612.0,1603.6" fill="#fff"/>
<polygon points="332.4,1608.5 333.9,1612.5 338.1,1612.6 334.8,1615.3 335.9,1619.4 332.4,1617.0 328.9,1619.4 330.0,1615.3 326.7,1612.6 330.9,1612.5" fill="#fff"/>
<polygon points="314.7,1621.1 316.2,1625.1 320.4,1625.2 317.1,1627.9 318.2,1632.0 314.7,1629.6 311.2,1632.0 312.3,1627.9 309.0,1625.2 313.2,1625.1" fill="#fff"/>
<polygon points="389.4,1636.3 390.9,1640.3 395.1,1640.4 391.8,1643.1 392.9,1647.2 389.4,1644.8 385.9,1647.2 387.0,1643.1 383.7,1640.4 387.9,1640.3" fill="#fff"/>
<polygon points="371.7,1661.6 373.2,1665.6 377.4,1665.7 374.1,1668.4 375.2,1672.5 371.7,1670.1 368.2,1672.5 369.3,1668.4 366.0,1665.7 370.2,1665.6" fill="#fff"/>
<polygon points="512.2,1483.1 513.1,1485.4 515.5,1485.5 513.6,1487.1 514.3,1489.4 512.2,1488.1 510.1,1489.4 510.8,1487.1 508.9,1485.5 511.3,1485.4" fill="#fff"/>
<polygon points="483.1,1500.8 484.0,1503.1 486.4,1503.2 484.5,1504.8 485.2,1507.1 483.1,1505.8 481.0,1507.1 481.7,1504.8 479.8,1503.2 482.2,1503.1" fill="#fff"/>
<polygon points="584.4,1493.2 585.3,1495.5 587.7,1495.6 585.8,1497.2 586.5,1499.5 584.4,1498.2 582.3,1499.5 583.0,1497.2 581.1,1495.6 583.5,1495.5" fill="#fff"/>
<polygon points="636.2,1504.6 637.1,1506.9 639.5,1507.0 637.6,1508.6 638.3,1510.9 636.2,1509.6 634.1,1510.9 634.8,1508.6 632.9,1507.0 635.3,1506.9" fill="#fff"/>
<polygon points="384.3,1536.3 385.2,1538.6 387.6,1538.7 385.7,1540.3 386.4,1542.6 384.3,1541.3 382.2,1542.6 382.9,1540.3 381.0,1538.7 383.4,1538.6" fill="#fff"/>
<polygon points="491.9,1524.9 492.8,1527.2 495.2,1527.3 493.3,1528.9 494.0,1531.2 491.9,1529.9 489.8,1531.2 490.5,1528.9 488.6,1527.3 491.0,1527.2" fill="#fff"/>
<polygon points="554.0,1517.3 554.9,1519.6 557.3,1519.7 555.4,1521.3 556.1,1523.6 554.0,1522.3 551.9,1523.6 552.6,1521.3 550.7,1519.7 553.1,1519.6" fill="#fff"/>
<polygon points="567.9,1517.3 568.8,1519.6 571.2,1519.7 569.3,1521.3 570.0,1523.6 567.9,1522.3 565.8,1523.6 566.5,1521.3 564.6,1519.7 567.0,1519.6" fill="#fff"/>
<polygon points="588.1,1528.7 589.0,1531.0 591.4,1531.1 589.5,1532.7 590.2,1535.0 588.1,1533.7 586.0,1535.0 586.7,1532.7 584.8,1531.1 587.2,1531.0" fill="#fff"/>
<polygon points="670.4,1538.8 671.3,1541.1 673.7,1541.2 671.8,1542.8 672.5,1545.1 670.4,1543.8 668.3,1545.1 669.0,1542.8 667.1,1541.2 669.5,1541.1" fill="#fff"/>
<polygon points="500.8,1547.2 501.7,1549.5 504.1,1549.6 502.2,1551.2 502.9,1553.5 500.8,1552.2 498.7,1553.5 499.4,1551.2 497.5,1549.6 499.9,1549.5" fill="#fff"/>
<polygon points="538.8,1573.0 539.7,1575.3 542.1,1575.4 540.2,1577.0 540.9,1579.3 538.8,1578.0 536.7,1579.3 537.4,1577.0 535.5,1575.4 537.9,1575.3" fill="#fff"/>
<polygon points="612.2,1571.0 613.1,1573.3 615.5,1573.4 613.6,1575.0 614.3,1577.3 612.2,1576.0 610.1,1577.3 610.8,1575.0 608.9,1573.4 611.3,1573.3" fill="#fff"/>
<polygon points="580.5,1586.1 581.4,1588.4 583.8,1588.5 581.9,1590.1 582.6,1592.4 580.5,1591.1 578.4,1592.4 579.1,1590.1 577.2,1588.5 579.6,1588.4" fill="#fff"/>
<polygon points="442.6,1603.4 443.5,1605.7 445.9,1605.8 444.0,1607.4 444.7,1609.7 442.6,1608.4 440.5,1609.7 441.2,1607.4 439.3,1605.8 441.7,1605.7" fill="#fff"/>
<polygon points="489.4,1614.7 490.3,1617.0 492.7,1617.1 490.8,1618.7 491.5,1621.0 489.4,1619.7 487.3,1621.0 488.0,1618.7 486.1,1617.1 488.5,1617.0" fill="#fff"/>
<polygon points="452.7,1617.3 453.6,1619.6 456.0,1619.7 454.1,1621.3 454.8,1623.6 452.7,1622.3 450.6,1623.6 451.3,1621.3 449.4,1619.7 451.8,1619.6" fill="#fff"/>
<polygon points="541.3,1598.3 542.2,1600.6 544.6,1600.7 542.7,1602.3 543.4,1604.6 541.3,1603.3 539.2,1604.6 539.9,1602.3 538.0,1600.7 540.4,1600.6" fill="#fff"/>
<polygon points="669.1,1605.9 670.0,1608.2 672.4,1608.3 670.5,1609.9 671.2,1612.2 669.1,1610.9 667.0,1612.2 667.7,1609.9 665.8,1608.3 668.2,1608.2" fill="#fff"/>
<polygon points="314.7,1594.5 315.6,1596.8 318.0,1596.9 316.1,1598.5 316.8,1600.8 314.7,1599.5 312.6,1600.8 313.3,1598.5 311.4,1596.9 313.8,1596.8" fill="#fff"/>
<polygon points="359.0,1635.0 359.9,1637.3 362.3,1637.4 360.4,1639.0 361.1,1641.3 359.0,1640.0 356.9,1641.3 357.6,1639.0 355.7,1637.4 358.1,1637.3" fill="#fff"/>
<polygon points="364.1,1638.8 365.0,1641.1 367.4,1641.2 365.5,1642.8 366.2,1645.1 364.1,1643.8 362.0,1645.1 362.7,1642.8 360.8,1641.2 363.2,1641.1" fill="#fff"/>
<polygon points="416.0,1657.8 416.9,1660.1 419.3,1660.2 417.4,1661.8 418.1,1664.1 416.0,1662.8 413.9,1664.1 414.6,1661.8 412.7,1660.2 415.1,1660.1" fill="#fff"/>
<polygon points="341.3,1676.8 342.2,1679.1 344.6,1679.2 342.7,1680.8 343.4,1683.1 341.3,1681.8 339.2,1683.1 339.9,1680.8 338.0,1679.2 340.4,1679.1" fill="#fff"/>
<path d="M255.2,1732.2 Q390,1744 523.6,1780.3 L523.6,1836 L257.7,1775 Z" fill="#f8f9f9"/>
<path d="M523.6,1780.3 L755.3,1688 L755.3,1728 L523.6,1836 Z" fill="#f8f9f9"/>
<path d="M255.2,1732.2 L442.5,1677 L740,1668 L755.3,1688 L523.6,1780.3 Q390,1744 255.2,1732.2 Z" fill="#e82024"/>
<path d="M664,1717 L755.3,1688 L755.3,1692 L523.6,1784 Z" fill="#f8f9f9"/>
<path d="M257.7,1774 L523.6,1835 L755.3,1727" stroke="#6b6b6b" stroke-width="5.5" fill="none" stroke-linejoin="round"/>
<path d="M255.5,1733 L257.7,1774" stroke="#6b6b6b" stroke-width="2" fill="none"/>
<path d="M755.3,1688 L755.3,1728" stroke="#6b6b6b" stroke-width="3.5" fill="none"/>
<path d="M523.6,1783 Q519,1808 523.6,1833 Q528,1808 523.6,1783 Z" fill="#6b6b6b" stroke="#6b6b6b" stroke-width="1.5"/>
<path d="M437,1671 Q436,1664 450,1660 Q462,1644 490,1637 Q510,1632 516,1626 Q528,1620 540,1627 Q575,1628 600,1634 Q620,1642 632,1646 Q650,1642 680,1646 Q720,1652 750,1664 Q760,1668 757,1673 Q757,1682 745,1689 L664,1720 Q655,1712 645,1706 Q610,1700 580,1694 Q566,1700 556,1702 Q545,1700 535,1690 Q490,1683 452,1675 Q440,1674 437,1671 Z" fill="#fff" stroke="#fff" stroke-width="4"/>
<path d="M449,1672 Q500,1680 533,1686 Q548,1698 560,1693 M580,1692 Q630,1700 664,1707 Q676,1714 686,1703 Q720,1690 752,1675" stroke="#6b6b6b" stroke-width="1.6" fill="none"/>
<path d="M582,1631 Q610,1636 625,1648 M648,1645 Q700,1650 752,1668" stroke="#6b6b6b" stroke-width="1.2" fill="none"/>
<path d="M563,1673 Q580,1655 609,1652 Q590,1658 563,1673 Z" fill="#6b6b6b" stroke="#6b6b6b" stroke-width="3"/>
<path d="M685,1693 Q700,1674 731,1672 Q710,1678 685,1693 Z" fill="#6b6b6b" stroke="#6b6b6b" stroke-width="3"/>
<path d="M741,1693 L755,1688 L752,1686 Z" fill="#e82024"/>
<path d="M252,1791 L526.1,1860 L766,1741" stroke="#e82024" stroke-width="5.5" fill="none" stroke-linejoin="round"/>
<path d="M285.6,1784.1 L250.5,1790.4 L265.3,1818.3" stroke="#e82024" stroke-width="5.5" fill="none" stroke-linecap="round" stroke-linejoin="round"/>
<path d="M737.5,1741 L768,1739.8 L755.3,1772.7" stroke="#e82024" stroke-width="5.5" fill="none" stroke-linecap="round" stroke-linejoin="round"/>
<text x="771" y="1698.2" class="g" font-size="81" textLength="126" lengthAdjust="spacingAndGlyphs">302</text>
<text x="917.5" y="1698.2" class="g" font-size="81" textLength="44" lengthAdjust="spacingAndGlyphs">x</text>
<text x="986" y="1698.2" class="g" font-size="81" textLength="124" lengthAdjust="spacingAndGlyphs">128</text>
</svg></body></html>
